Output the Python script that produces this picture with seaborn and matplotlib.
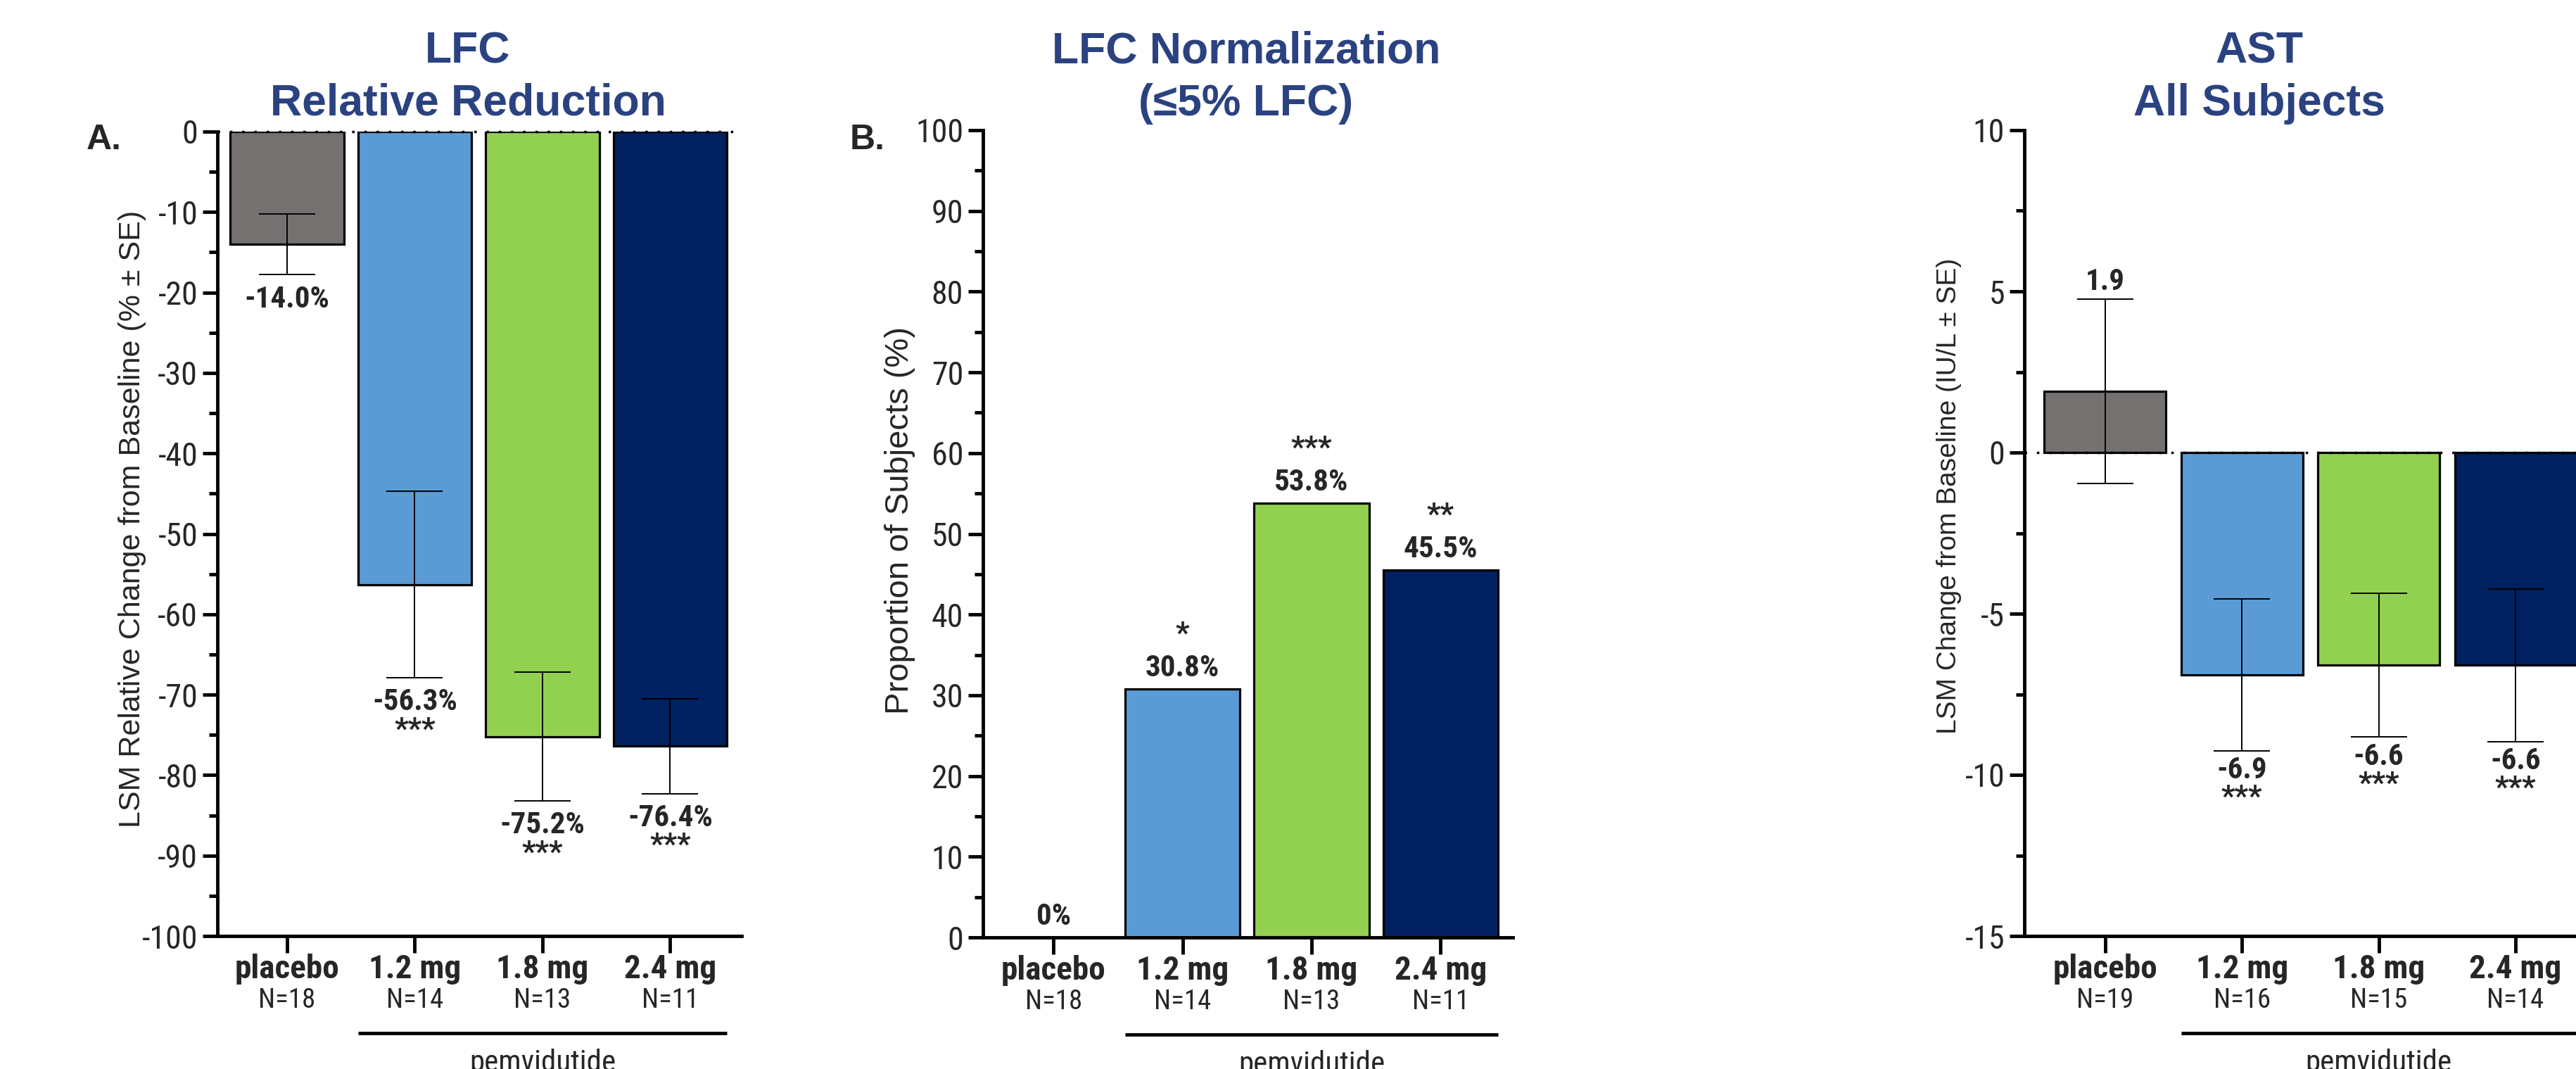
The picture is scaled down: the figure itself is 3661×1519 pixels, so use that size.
import numpy as np
import pandas as pd
import matplotlib
matplotlib.use("Agg")
import matplotlib.pyplot as plt
import matplotlib.transforms as mtransforms
from matplotlib import font_manager
from matplotlib.ticker import MultipleLocator, FuncFormatter
import seaborn as sns

# ---- data -------------------------------------------------------------
groups = ["placebo", "1.2 mg", "1.8 mg", "2.4 mg"]
colors = ["#767171", "#5B9BD5", "#92D050", "#002060"]

lfc_n = ["N=18", "N=14", "N=13", "N=11"]
lfc_change = [-14.0, -56.3, -75.2, -76.4]
lfc_se = [3.8, 11.6, 8.0, 5.9]
lfc_stars = ["", "***", "***", "***"]

norm_n = ["N=18", "N=14", "N=13", "N=11"]
norm_pct = [0.0, 30.8, 53.8, 45.5]
norm_stars = ["", "*", "***", "**"]

ast_n = ["N=19", "N=16", "N=15", "N=14"]
ast_change = [1.9, -6.9, -6.6, -6.6]
ast_se = [2.85, 2.35, 2.23, 2.37]
ast_stars = ["", "***", "***", "***"]

# ---- style ------------------------------------------------------------
sns.set_style("ticks")
plt.rcParams["font.family"] = ["Liberation Sans", "DejaVu Sans"]


def pick_narrow():
    """Find a condensed sans face for the axis numbers and labels."""
    entries = font_manager.fontManager.ttflist
    names = {f.name for f in entries}
    for fam in ["Liberation Sans Narrow", "Arial Narrow", "Roboto Condensed",
                "Noto Sans Condensed", "Noto Sans SemiCondensed",
                "DejaVu Sans Condensed"]:
        if fam in names:
            return {"fontfamily": fam}, True
    for f in entries:
        if f.name in ("Roboto", "Noto Sans", "Liberation Sans") and \
                f.stretch in ("condensed", "semi-condensed"):
            return {"fontfamily": f.name, "fontstretch": f.stretch}, True
    return {"fontfamily": "Liberation Sans"}, False


NARROW, HAS_NARROW = pick_narrow()
if HAS_NARROW:
    FS_YTICK, FS_XTICK, FS_N, FS_VAL, FS_PEM = 33, 34, 28, 31, 31
else:
    FS_YTICK, FS_XTICK, FS_N, FS_VAL, FS_PEM = 27, 26, 21, 27, 26

TITLE_COLOR = "#2B4281"
BAR_W = 0.89
SPINE_W = 3.5

W, H = 3662, 1519
fig = plt.figure(figsize=(W / 100, H / 100), dpi=100)


def px_axes(left, right, top, bottom):
    return fig.add_axes([left / W, 1 - bottom / H, (right - left) / W, (bottom - top) / H])


ax_a = px_axes(309, 1054, 187, 1330)
ax_b = px_axes(1397, 2150, 185, 1332)
ax_c = px_axes(2877, 3684, 185, 1330)


def draw_panel(ax, values, n_labels, ylim, major, minor, xlim, ylabel, ylabel_pos,
               ylabel_fs, se=None, zero_line=False):
    df = pd.DataFrame({"group": groups, "value": values})
    sns.barplot(data=df, x="group", y="value", hue="group", order=groups,
                hue_order=groups, palette=colors, width=BAR_W, saturation=1,
                edgecolor="black", linewidth=2.3, errorbar=None, legend=False,
                ax=ax, zorder=2)
    if se is not None:
        ax.errorbar(np.arange(len(groups)), values, yerr=se, fmt="none",
                    ecolor="black", elinewidth=1.4, capsize=29, capthick=1.4,
                    zorder=4)
    if zero_line:
        ax.axhline(0, color="black", lw=2.5, ls=(0, (1, 4)), zorder=5, clip_on=False)

    ax.set_xlim(*xlim)
    ax.set_ylim(*ylim)
    ax.yaxis.set_major_locator(MultipleLocator(major))
    ax.yaxis.set_minor_locator(MultipleLocator(minor))
    ax.yaxis.set_major_formatter(FuncFormatter(lambda v, p: f"{v:g}"))

    for side in ("top", "right"):
        ax.spines[side].set_visible(False)
    for side in ("left", "bottom"):
        ax.spines[side].set_linewidth(SPINE_W)
        ax.spines[side].set_color("black")

    ax.tick_params(axis="y", which="major", length=15, width=SPINE_W, pad=5,
                   labelsize=FS_YTICK, color="black")
    ax.tick_params(axis="y", which="minor", length=9, width=SPINE_W, color="black")
    ax.tick_params(axis="x", which="major", length=17, width=SPINE_W, pad=1,
                   color="black")
    for t in ax.get_yticklabels():
        t.update(NARROW)

    ax.set_xticks(np.arange(len(groups)))
    ax.set_xticklabels(groups, fontsize=FS_XTICK, fontweight="bold", **NARROW)
    ax.set_xlabel("")
    ax.set_ylabel(ylabel, fontsize=ylabel_fs)
    ax.yaxis.set_label_coords(*ylabel_pos)

    trans = mtransforms.blended_transform_factory(ax.transData, ax.transAxes)
    height = ax.get_position().height * H
    for i, n in enumerate(n_labels):
        ax.text(i, -91 / height, n, transform=trans, ha="center", va="center",
                fontsize=FS_N, **NARROW)

    # dose bracket under the active arms
    y_br = -138 / height
    ax.plot([1 - BAR_W / 2, 3 + BAR_W / 2], [y_br, y_br], transform=trans,
            color="black", lw=3.5, solid_capstyle="butt", clip_on=False)
    ax.text(2, -160 / height, "pemvidutide", transform=trans, ha="center",
            va="top", fontsize=FS_PEM, **NARROW)


draw_panel(ax_a, lfc_change, lfc_n, (-100, 0), 10, 5, (-0.545, 3.56),
           "LSM Relative Change from Baseline (% ± SE)", (-0.136, 0.518), 31,
           se=lfc_se, zero_line=True)
draw_panel(ax_b, norm_pct, norm_n, (0, 100), 10, 5, (-0.546, 3.56),
           "Proportion of Subjects (%)", (-0.128, 0.517), 34)
draw_panel(ax_c, ast_change, ast_n, (-15, 10), 5, 2.5, (-0.59, 3.56),
           "LSM Change from Baseline (IU/L ± SE)", (-0.110, 0.546), 28,
           se=ast_se, zero_line=True)


def label(ax, text, xy, dy):
    ax.annotate(text, xy, xytext=(0, dy), textcoords="offset points",
                ha="center", va="center", fontsize=FS_VAL, fontweight="bold",
                **NARROW)


# LFC relative reduction: value and significance below the error bar
for i, (v, s, st) in enumerate(zip(lfc_change, lfc_se, lfc_stars)):
    label(ax_a, f"{v:.1f}%", (i, v - s), -25)
    if st:
        label(ax_a, st, (i, v - s), -53)

# normalization: value and significance above the bar
for i, (v, st) in enumerate(zip(norm_pct, norm_stars)):
    label(ax_b, "0%" if v == 0 else f"{v:.1f}%", (i, v), 21)
    if st:
        label(ax_b, st, (i, v), 56)

# AST: value beyond the error bar
for i, (v, s, st) in enumerate(zip(ast_change, ast_se, ast_stars)):
    if v >= 0:
        label(ax_c, f"{v:.1f}", (i, v + s), 18)
    else:
        label(ax_c, f"{v:.1f}", (i, v - s), -20)
    if st:
        label(ax_c, st, (i, v - s), -48)

# panel titles
titles = [
    (665, "LFC", "Relative Reduction"),
    (1771, "LFC Normalization", "(≤5% LFC)"),
    (3211, "AST", "All Subjects"),
]
for xc, l1, l2 in titles:
    for yb, line in ((89, l1), (164, l2)):
        fig.text(xc / W, 1 - yb / H, line, ha="center", va="baseline", fontsize=45,
                 fontweight="bold", color=TITLE_COLOR)

# panel letters
fig.text(123 / W, 1 - 212 / H, "A.", ha="left", va="baseline", fontsize=36,
         fontweight="bold")
fig.text(1208 / W, 1 - 212 / H, "B.", ha="left", va="baseline", fontsize=36,
         fontweight="bold")

fig.savefig("out.png", dpi=100)
